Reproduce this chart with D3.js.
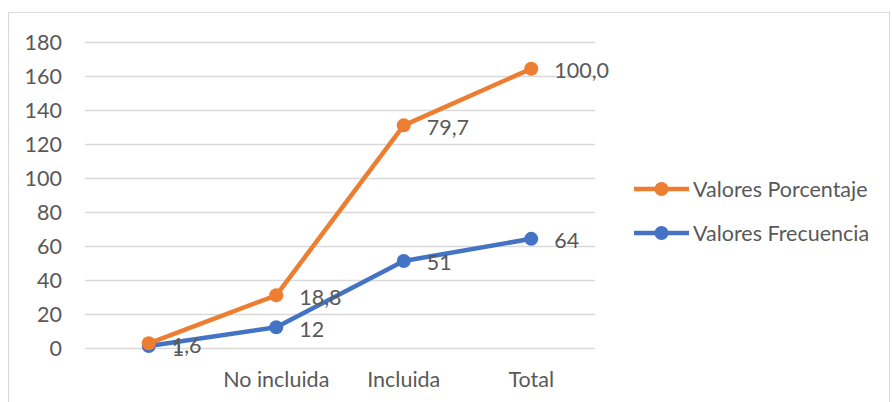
<!DOCTYPE html>
<html>
<head>
<meta charset="utf-8">
<script src="https://cdn.jsdelivr.net/npm/d3@7"></script>
<style>
  html, body { margin: 0; padding: 0; background: #fff; }
  svg { display: block; }
  text { font-family: Lato, "Open Sans", sans-serif; fill: #595959; }
</style>
</head>
<body>
<svg id="chart" width="892" height="402"></svg>
<script>
// Categories along the x axis (the first one has no label)
const categories = ["", "No incluida", "Incluida", "Total"];
// Series values
const frecuencia = [1, 12, 51, 64];
const porcentaje = [1.6, 18.8, 79.7, 100.0];
// Y axis ticks
const yTicks = [0, 20, 40, 60, 80, 100, 120, 140, 160, 180];

const seriesNames = { frecuencia: "Valores Frecuencia", porcentaje: "Valores Porcentaje" };
const colors = { frecuencia: "#4472C4", porcentaje: "#ED7D31" };

const svg = d3.select("#chart");
const W = 892, H = 402;
const plot = { left: 85, right: 595, top: 41.5, bottom: 347.7 };
const fontSize = 21.5;
const fontFamily = "Lato, 'Open Sans', sans-serif";

// Outer chart frame
svg.append("rect")
  .attr("x", 8.5).attr("y", 12.5)
  .attr("width", W - 11).attr("height", H)
  .attr("fill", "none").attr("stroke", "#D9D9D9").attr("stroke-width", 1);

// Stacked line layout: porcentaje sits on top of frecuencia
const rows = categories.map((c, i) => ({ cat: c, frecuencia: frecuencia[i], porcentaje: porcentaje[i] }));
const stacked = d3.stack().keys(["frecuencia", "porcentaje"])(rows);

const x = d3.scaleBand().domain(d3.range(categories.length))
  .range([plot.left, plot.right]).paddingInner(0).paddingOuter(0);
const y = d3.scaleLinear().domain([0, 180]).range([plot.bottom, plot.top]);
const cx = i => x(i) + x.bandwidth() / 2;

// Horizontal gridlines
svg.append("g")
  .selectAll("line").data(yTicks).join("line")
  .attr("x1", plot.left).attr("x2", plot.right)
  .attr("y1", d => Math.round(y(d)) + 0.5).attr("y2", d => Math.round(y(d)) + 0.5)
  .attr("stroke", "#D9D9D9").attr("stroke-width", 1.3);

// Y axis labels
const yAxis = d3.axisLeft(y).tickValues(yTicks).tickSize(0).tickPadding(0);
const yg = svg.append("g").attr("transform", `translate(62,0)`).call(yAxis);
yg.select(".domain").remove();
yg.selectAll("text").attr("font-size", fontSize).attr("fill", "#595959")
  .style("font-family", fontFamily).attr("dy", "0.35em");

// X axis labels
const xAxis = d3.axisBottom(x).tickFormat(i => categories[i]).tickSize(0).tickPadding(0);
const xg = svg.append("g").attr("transform", `translate(0,379)`).call(xAxis);
xg.select(".domain").remove();
xg.selectAll("text").attr("font-size", fontSize).attr("fill", "#595959")
  .style("font-family", fontFamily).attr("dy", "0.35em");

// Lines and markers, frecuencia first so porcentaje draws over it
const line = d3.line().x((d, i) => cx(i)).y(d => y(d[1]));
stacked.forEach(s => {
  const g = svg.append("g");
  g.append("path").datum(s).attr("d", line)
    .attr("fill", "none").attr("stroke", colors[s.key])
    .attr("stroke-width", 4.5).attr("stroke-linejoin", "round");
  g.selectAll("circle").data(s).join("circle")
    .attr("cx", (d, i) => cx(i)).attr("cy", d => y(d[1])).attr("r", 7)
    .attr("fill", colors[s.key]);
});

// Data labels to the right of each point
const fmt = { frecuencia: v => String(v), porcentaje: v => v.toFixed(1).replace(".", ",") };
stacked.forEach(s => {
  svg.append("g").selectAll("text").data(s).join("text")
    .attr("x", (d, i) => cx(i) + 23)
    .attr("y", d => y(d[1]) + 2)
    .attr("dy", "0.35em")
    .attr("font-size", fontSize)
    .text(d => fmt[s.key](d.data[s.key]));
});

// Legend
const legend = [
  { key: "porcentaje", y: 189 },
  { key: "frecuencia", y: 233 }
];
const lg = svg.append("g");
legend.forEach(l => {
  lg.append("line").attr("x1", 634).attr("x2", 689).attr("y1", l.y).attr("y2", l.y)
    .attr("stroke", colors[l.key]).attr("stroke-width", 4.5);
  lg.append("circle").attr("cx", 661.5).attr("cy", l.y).attr("r", 7).attr("fill", colors[l.key]);
  lg.append("text").attr("x", 693).attr("y", l.y).attr("dy", "0.35em")
    .attr("font-size", fontSize).text(seriesNames[l.key]);
});
</script>
</body>
</html>
